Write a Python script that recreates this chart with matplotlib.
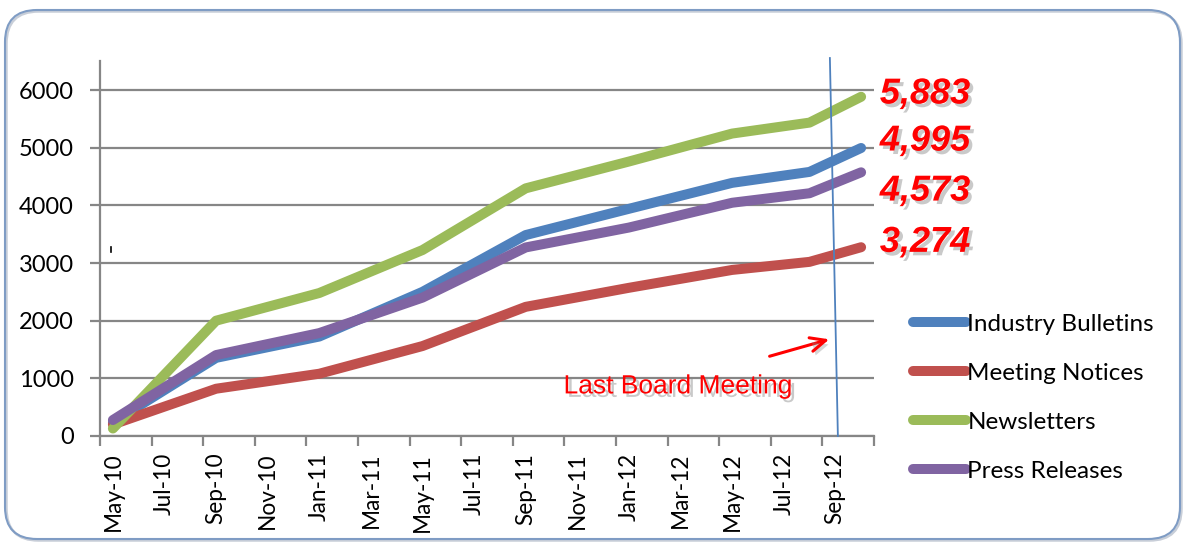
import matplotlib
matplotlib.use("Agg")
import matplotlib.pyplot as plt
import matplotlib.patheffects as pe
from matplotlib.patches import FancyBboxPatch
from matplotlib.lines import Line2D

# Month index (0 = May-10) of each recorded point
months = [0, 4, 8, 12, 16, 20, 24, 27, 29]
industry_bulletins = [240, 1355, 1725, 2500, 3485, 3940, 4390, 4580, 4995]
meeting_notices = [200, 820, 1080, 1560, 2240, 2570, 2880, 3020, 3274]
newsletters = [130, 2000, 2480, 3225, 4295, 4760, 5245, 5435, 5883]
press_releases = [277, 1404, 1785, 2400, 3270, 3615, 4045, 4210, 4573]

series_names = ["Industry Bulletins", "Meeting Notices", "Newsletters", "Press Releases"]
series_values = [industry_bulletins, meeting_notices, newsletters, press_releases]
series_colors = ["#4F81BD", "#C0504D", "#9BBB59", "#8064A2"]

tick_labels = ["May-10", "Jul-10", "Sep-10", "Nov-10", "Jan-11", "Mar-11", "May-11",
               "Jul-11", "Sep-11", "Nov-11", "Jan-12", "Mar-12", "May-12", "Jul-12",
               "Sep-12"]
y_ticks = [0, 1000, 2000, 3000, 4000, 5000, 6000]

W, H, DPI = 1183, 542, 100
fig = plt.figure(figsize=(W / DPI, H / DPI), dpi=DPI)
fig.patch.set_facecolor("white")

# rounded chart frame with a faint outer shadow
for dx, dy, col, lw in [(1.5, -1.5, "#C8CED8", 1.8), (0, 0, "#7F9CC4", 1.5)]:
    frame = FancyBboxPatch(((5 + dx) / DPI, (3 + dy) / DPI), (W - 8) / DPI, (H - 13) / DPI,
                           boxstyle="round,pad=0,rounding_size=0.32",
                           transform=fig.dpi_scale_trans, facecolor="none",
                           edgecolor=col, linewidth=lw, zorder=-10)
    fig.patches.append(frame)

ax = fig.add_axes([100 / W, 1 - 436 / H, (874 - 100) / W, (436 - 61.2) / H])
ax.set_facecolor("none")

for name, vals, col in zip(series_names, series_values, series_colors):
    ax.plot(months, vals, color=col, lw=7.2, solid_capstyle="round",
            solid_joinstyle="round", label=name, zorder=3)

ax.set_xlim(-0.5, 29.5)
ax.set_ylim(0, 6500)

ax.set_yticks(y_ticks)
ax.set_yticklabels([str(v) for v in y_ticks], family="Lato", size=17)
ax.yaxis.grid(True, color="#868686", lw=1.6)
ax.set_axisbelow(True)

# category ticks on 2-month boundaries, labels centred on the first month
ax.set_xticks([i - 0.5 for i in range(0, 31, 2)])
ax.set_xticklabels([])
ax.set_xticks(list(range(0, 30, 2)), minor=True)
ax.set_xticklabels(tick_labels, minor=True, rotation=90, family="Lato", size=16.3)
ax.tick_params(axis="x", which="major", length=7, width=1.6, color="#868686",
               direction="out")
ax.tick_params(axis="x", which="minor", length=0, pad=12)
ax.tick_params(axis="y", length=7, width=1.6, color="#868686", pad=12)

for s in ["top", "right"]:
    ax.spines[s].set_visible(False)
for s in ["left", "bottom"]:
    ax.spines[s].set_color("#868686")
    ax.spines[s].set_linewidth(1.6)

# board meeting marker line
ax.plot([27.79, 28.1], [6555, 0], color="#4F81BD", lw=1.3, clip_on=False, zorder=4)

shadow = [pe.SimplePatchShadow(offset=(2.5, -2.5), shadow_rgbFace="#888888", alpha=0.45),
          pe.Normal()]

ax.annotate("", xy=(27.87, 1690), xytext=(25.35, 1370),
            arrowprops=dict(arrowstyle="->,head_length=1.1,head_width=0.5",
                            color="#FF0000", lw=2.2,
                            path_effects=[pe.SimplePatchShadow(offset=(2, -3),
                                                               shadow_rgbFace="#888888",
                                                               alpha=0.35),
                                          pe.Normal()]),
            zorder=5)
ax.text(21.9, 860, "Last Board Meeting", color="#FF0000", family="Liberation Sans",
        fontsize=19, ha="center", va="center", path_effects=shadow, zorder=5)

# end-of-series value labels
label_offsets = {"Newsletters": 2, "Industry Bulletins": 5,
                 "Press Releases": -13.5, "Meeting Notices": 3.5}
for name, vals in zip(series_names, series_values):
    ax.annotate(f"{vals[-1]:,}", xy=(months[-1], vals[-1]),
                xytext=(13.5, label_offsets[name]), textcoords="offset points",
                ha="left", va="center", color="#FF0000", family="Liberation Sans",
                fontsize=26, fontweight="bold", fontstyle="italic",
                path_effects=shadow, annotation_clip=False, zorder=5)

leg = ax.legend(loc="upper left", bbox_to_anchor=(903 / W, 1 - 304 / H),
                bbox_transform=fig.transFigure, frameon=False,
                prop=dict(family="Lato", size=17.5), handlelength=2.2,
                handletextpad=0.05, labelspacing=1.15, borderaxespad=0)
for h in leg.get_lines():
    h.set_linewidth(7.2)
    h.set_solid_capstyle("round")

# small stray mark near the value axis
fig.add_artist(Line2D([111 / W, 111 / W], [1 - 247 / H, 1 - 252 / H],
                      color="black", lw=1.2))

fig.savefig("out.png", dpi=DPI)
